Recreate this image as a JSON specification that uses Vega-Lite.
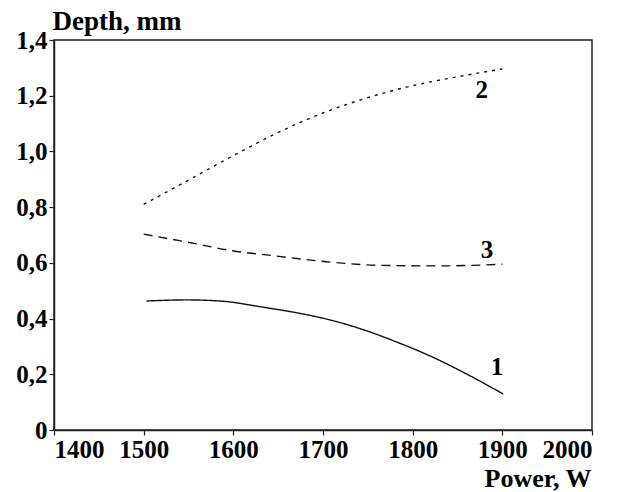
{
  "$schema": "https://vega.github.io/schema/vega-lite/v6.json",
  "width": 538,
  "height": 390,
  "autosize": {"type": "none"},
  "padding": {"left": 54, "top": 40, "right": 28, "bottom": 62},
  "background": "white",
  "config": {
    "view": {"stroke": "#222", "strokeWidth": 1.5},
    "axis": {
      "grid": false,
      "domainColor": "#222",
      "domainWidth": 1.5,
      "tickColor": "#222",
      "tickWidth": 1.2,
      "tickSize": 5
    }
  },
  "datasets": {
    "curves": [
      {"series": "2", "power": 1500, "depth": 0.810},
      {"series": "2", "power": 1550, "depth": 0.897},
      {"series": "2", "power": 1600, "depth": 0.985},
      {"series": "2", "power": 1650, "depth": 1.068},
      {"series": "2", "power": 1700, "depth": 1.138},
      {"series": "2", "power": 1750, "depth": 1.193},
      {"series": "2", "power": 1800, "depth": 1.236},
      {"series": "2", "power": 1850, "depth": 1.268},
      {"series": "2", "power": 1900, "depth": 1.296},
      {"series": "3", "power": 1500, "depth": 0.703},
      {"series": "3", "power": 1559, "depth": 0.668},
      {"series": "3", "power": 1596, "depth": 0.645},
      {"series": "3", "power": 1644, "depth": 0.626},
      {"series": "3", "power": 1704, "depth": 0.604},
      {"series": "3", "power": 1764, "depth": 0.591},
      {"series": "3", "power": 1830, "depth": 0.589},
      {"series": "3", "power": 1900, "depth": 0.595},
      {"series": "1", "power": 1503, "depth": 0.463},
      {"series": "1", "power": 1548, "depth": 0.467},
      {"series": "1", "power": 1585, "depth": 0.463},
      {"series": "1", "power": 1633, "depth": 0.441},
      {"series": "1", "power": 1680, "depth": 0.415},
      {"series": "1", "power": 1708, "depth": 0.395},
      {"series": "1", "power": 1745, "depth": 0.360},
      {"series": "1", "power": 1782, "depth": 0.316},
      {"series": "1", "power": 1820, "depth": 0.265},
      {"series": "1", "power": 1856, "depth": 0.208},
      {"series": "1", "power": 1901, "depth": 0.129}
    ],
    "labels": [
      {"series": "2", "power": 1877, "depth": 1.22},
      {"series": "3", "power": 1883, "depth": 0.646},
      {"series": "1", "power": 1894, "depth": 0.226}
    ]
  },
  "layer": [
    {
      "data": {"name": "curves"},
      "mark": {"type": "line", "color": "#111", "strokeWidth": 1.4, "interpolate": "monotone"},
      "encoding": {
        "x": {
          "field": "power", "type": "quantitative",
          "scale": {"domain": [1400, 2000], "nice": false, "zero": false},
          "axis": {
            "values": [1400, 1500, 1600, 1700, 1800, 1900, 2000],
            "format": "d",
            "labelPadding": 2,
            "labelFont": "Times New Roman",
            "labelFontWeight": "bold",
            "labelFontSize": 25,
            "labelColor": "black",
            "title": "Power, W",
            "titleFont": "Times New Roman",
            "titleFontWeight": "bold",
            "titleFontSize": 26,
            "titleColor": "black",
            "titleAngle": 0,
            "titleAlign": "right",
            "titleBaseline": "alphabetic",
            "titleX": 537,
            "titleY": 56
          }
        },
        "y": {
          "field": "depth", "type": "quantitative",
          "scale": {"domain": [0, 1.4], "nice": false},
          "axis": {
            "values": [0, 0.2, 0.4, 0.6, 0.8, 1.0, 1.2, 1.4],
            "labelExpr": "datum.value == 0 ? '0' : replace(format(datum.value, '.1f'), '.', ',')",
            "labelPadding": 2,
            "labelFont": "Times New Roman",
            "labelFontWeight": "bold",
            "labelFontSize": 25,
            "labelColor": "black",
            "title": "Depth, mm",
            "titleFont": "Times New Roman",
            "titleFontWeight": "bold",
            "titleFontSize": 27,
            "titleColor": "black",
            "titleAngle": 0,
            "titleAlign": "left",
            "titleBaseline": "alphabetic",
            "titleX": -2,
            "titleY": -11
          }
        },
        "detail": {"field": "series"},
        "strokeDash": {
          "field": "series", "type": "nominal",
          "scale": {"domain": ["1", "2", "3"], "range": [[1, 0], [3, 5], [9, 6]]},
          "legend": null
        }
      }
    },
    {
      "data": {"name": "labels"},
      "mark": {"type": "text", "font": "Times New Roman", "fontWeight": "bold", "fontSize": 25, "baseline": "middle", "align": "center", "color": "black"},
      "encoding": {
        "x": {"field": "power", "type": "quantitative"},
        "y": {"field": "depth", "type": "quantitative"},
        "text": {"field": "series"}
      }
    }
  ]
}
